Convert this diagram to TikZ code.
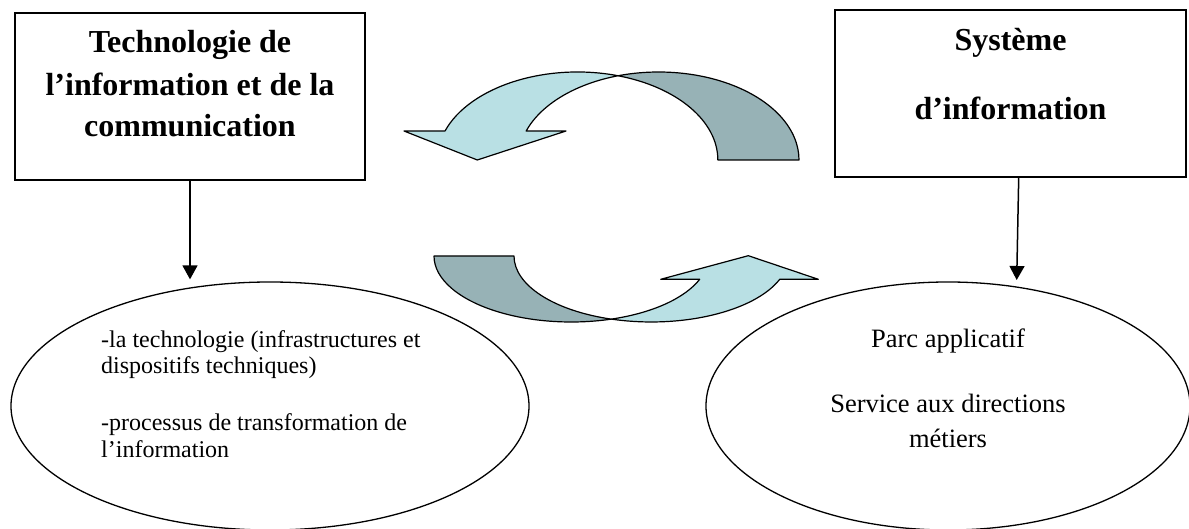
\documentclass[tikz,border=0pt]{standalone}
\usepackage{fontspec}
\setmainfont{Liberation Serif}
\usetikzlibrary{arrows.meta,shapes.geometric}
\definecolor{lightband}{RGB}{185,224,228}
\definecolor{darkband}{RGB}{151,178,182}
\begin{document}
\begin{tikzpicture}[x=1pt,y=1pt,
  box/.style={draw, line width=1.5pt, rectangle, inner sep=0pt},
  oval/.style={draw, line width=1.3pt, ellipse, inner sep=0pt},
  title/.style={font=\fontsize{32}{38}\selectfont\bfseries, inner sep=0pt, anchor=base},
  bodyl/.style={font=\fontsize{24}{28}\selectfont, inner sep=0pt, anchor=base west},
  bodyr/.style={font=\fontsize{26.5}{31}\selectfont, inner sep=0pt, anchor=base},
  arr/.style={line width=1.5pt, -{Triangle[length=14pt,width=15pt]}},
  band/.style={draw, line width=1.2pt, line join=round}
]
\useasboundingbox (0,0) rectangle (1189,528);

% boxes
\node[box, minimum width=350pt, minimum height=167pt] (tic) at (190,431.5) {};
\node[box, minimum width=351pt, minimum height=167pt] (si) at (1010.5,434.5) {};

% ellipses
\node[oval, minimum width=518pt, minimum height=248pt] (tl) at (270,122) {};
\node[oval, minimum width=484pt, minimum height=248pt] (sr) at (948,122) {};

% titles
\node[title] (t1) at (190,475) {Technologie de};
\node[title] (t2) at (190,432) {l’information et de la};
\node[title] (t3) at (190,391) {communication};
\node[title] (s1) at (1010.5,477.3) {Système};
\node[title] (s2) at (1010.5,408) {d’information};

% ellipse texts
\node[bodyl] (l1) at (101,180.3) {-la technologie (infrastructures et};
\node[bodyl] (l2) at (101,154) {dispositifs techniques)};
\node[bodyl] (l3) at (101,98) {-processus de transformation de};
\node[bodyl] (l4) at (101,71) {l’information};
\node[bodyr] (r1) at (948,180) {Parc applicatif};
\node[bodyr] (r2) at (948,116) {Service aux directions};
\node[bodyr] (r3) at (948,80.3) {métiers};

% vertical arrows
\draw[arr, shorten >=2pt] (tic.south) -- (tic.south |- tl.north);
\coordinate (rs) at ([xshift=8.2pt]si.south);
\coordinate (re) at (1016.7,248);
\draw[arr] (rs) -- (re);

% top curved arrow (to the left)
\draw[band, fill=darkband] (799,368)
  arc[start angle=0, end angle=106.8, x radius=140.4, y radius=88]
  arc[start angle=73.2, end angle=0, x radius=140.4, y radius=88] -- cycle;
\draw[band, fill=lightband] (445,397)
  arc[start angle=160.76, end angle=73.2, x radius=140.4, y radius=88]
  arc[start angle=106.8, end angle=160.76, x radius=140.4, y radius=88]
  -- (566,397) -- (477.3,368) -- (404,397) -- cycle;

% bottom curved arrow (to the right)
\draw[band, fill=darkband] (434,272)
  arc[start angle=180, end angle=286.94, x radius=137.3, y radius=66]
  arc[start angle=253.06, end angle=180, x radius=137.3, y radius=66] -- cycle;
\draw[band, fill=lightband] (611.3,208.9)
  arc[start angle=253.06, end angle=339.3, x radius=137.3, y radius=66]
  -- (818.3,248.7) -- (748.3,272.3) -- (660.7,248.7) -- (699.7,248.7)
  arc[start angle=339.3, end angle=286.94, x radius=137.3, y radius=66] -- cycle;
\end{tikzpicture}
\end{document}
